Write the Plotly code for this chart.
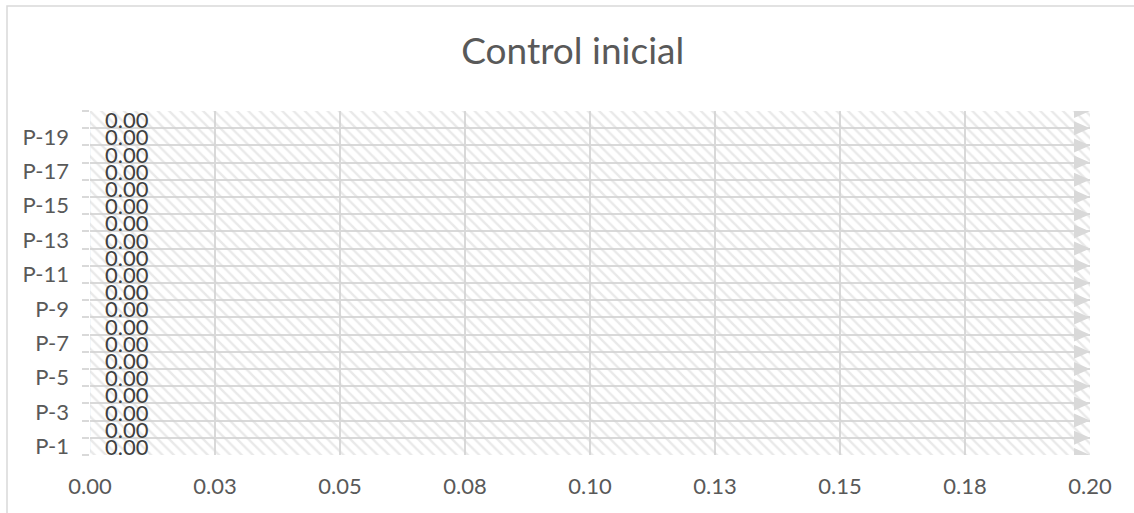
import plotly.graph_objects as go

# Data
categories = [f"P-{i}" for i in range(1, 21)]
values = [0.00] * 20
x_tick_values = [0.0, 0.025, 0.05, 0.075, 0.10, 0.125, 0.15, 0.175, 0.20]
x_tick_labels = ["0.00", "0.03", "0.05", "0.08", "0.10", "0.13", "0.15", "0.18", "0.20"]
y_tick_labels = categories[::2]

FONT = "Lato"
GRID = "#d9d9d9"
TEXT = "#595959"

n = len(categories)
y_idx = list(range(n))
x_max = x_tick_values[-1]
boundaries = [i - 0.5 for i in range(n + 1)]

fig = go.Figure()

# hatched plot-area fill
fig.add_trace(go.Scatter(
    x=[0, x_max, x_max, 0, 0],
    y=[-0.5, -0.5, n - 0.5, n - 0.5, -0.5],
    fill="toself",
    fillcolor="rgba(0,0,0,0)",
    fillpattern=dict(shape="\\", fgcolor="#d3d3d3", bgcolor="rgba(0,0,0,0)",
                     size=8, solidity=0.3),
    line=dict(width=0),
    mode="lines",
    hoverinfo="skip",
    showlegend=False,
))

# the bars themselves
fig.add_trace(go.Bar(
    x=values, y=y_idx, orientation="h",
    marker=dict(color="#a5a5a5"),
    showlegend=False,
))

# data labels
for v, yi in zip(values, y_idx):
    fig.add_annotation(
        x=v, y=yi, text=f"{v:.2f}", showarrow=False,
        xanchor="left", yanchor="middle", xshift=13,
        font=dict(family=FONT, size=22, color="#404040"),
    )

# arrow caps at the end of each row line
for b in boundaries:
    fig.add_shape(
        type="path", xref="x", yref="y",
        xsizemode="pixel", ysizemode="pixel",
        xanchor=x_max, yanchor=b,
        path="M-16,-7 L0,0 L-16,7 Z",
        fillcolor=GRID, line=dict(width=0),
        layer="above",
    )

# chart border
fig.add_shape(
    type="rect", xref="paper", yref="paper",
    x0=-0.083, x1=1.06, y0=-0.2, y1=1.3052,
    line=dict(color=GRID, width=1.5),
)

fig.update_layout(
    width=1134, height=513,
    margin=dict(l=90, r=44, t=111, b=58),
    paper_bgcolor="white",
    plot_bgcolor="white",
    title=dict(text="Control inicial", x=0.505, xref="container", xanchor="center",
               y=0.9, yref="container", yanchor="middle",
               font=dict(family=FONT, size=37, color=TEXT)),
    showlegend=False,
    xaxis=dict(
        range=[0, x_max], tickvals=x_tick_values, ticktext=x_tick_labels,
        showgrid=True, gridcolor=GRID, gridwidth=2,
        zeroline=False, showline=False,
        ticks="", ticklabelstandoff=16,
        tickfont=dict(family=FONT, size=22, color=TEXT),
        fixedrange=True,
    ),
    yaxis=dict(
        range=[-0.5, n - 0.5],
        tickvals=y_idx[::2], ticktext=y_tick_labels,
        showgrid=False, zeroline=False, showline=False,
        ticks="", ticklabelstandoff=20,
        tickfont=dict(family=FONT, size=22, color=TEXT),
        minor=dict(tickvals=boundaries, showgrid=True, gridcolor=GRID,
                   gridwidth=2, ticks="outside", ticklen=7,
                   tickcolor=GRID, tickwidth=2),
        fixedrange=True,
    ),
)

fig.write_html("out.html")
